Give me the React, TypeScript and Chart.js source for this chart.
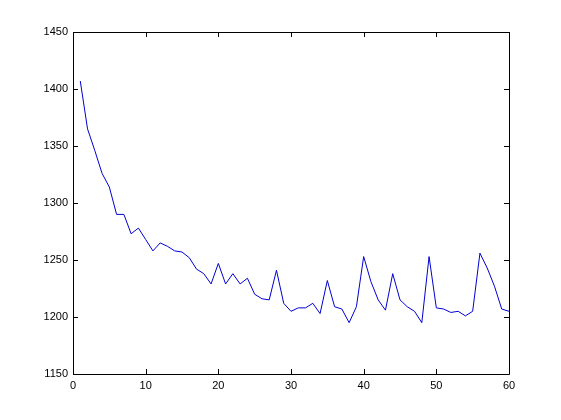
import React, { useEffect, useRef } from "react";
import { Chart, registerables } from "chart.js";

Chart.register(...registerables);

const xValues: number[] = Array.from({ length: 60 }, (_, i) => i + 1);
const yValues: number[] = [
  1407, 1365, 1346, 1326, 1314, 1290, 1290, 1273, 1278, 1268,
  1258, 1265, 1262, 1258, 1257, 1252, 1242, 1238, 1229, 1247,
  1229, 1238, 1229, 1234, 1220, 1216, 1215, 1241, 1212, 1205,
  1208, 1208, 1212, 1203, 1232, 1209, 1207, 1195, 1209, 1253,
  1231, 1215, 1206, 1238, 1215, 1209, 1205, 1195, 1253, 1208,
  1207, 1204, 1205, 1201, 1205, 1256, 1243, 1227, 1207, 1205,
];
const xTicks: number[] = [0, 10, 20, 30, 40, 50, 60];
const yTicks: number[] = [1150, 1200, 1250, 1300, 1350, 1400, 1450];

const framePlugin = {
  id: "matlabFrame",
  afterDatasetsDraw(chart: any) {
    const { ctx, chartArea } = chart;
    const { left, right, top, bottom } = chartArea;
    const xs = chart.scales.x;
    const ys = chart.scales.y;
    const L = 5;
    ctx.save();
    ctx.strokeStyle = "#000";
    ctx.lineWidth = 1;
    ctx.beginPath();
    ctx.rect(Math.round(left) + 0.5, Math.round(top) + 0.5, Math.round(right - left), Math.round(bottom - top));
    for (const v of xTicks) {
      const px = Math.round(xs.getPixelForValue(v)) + 0.5;
      ctx.moveTo(px, bottom);
      ctx.lineTo(px, bottom - L);
      ctx.moveTo(px, top);
      ctx.lineTo(px, top + L);
    }
    for (const v of yTicks) {
      const py = Math.round(ys.getPixelForValue(v)) + 0.5;
      ctx.moveTo(left, py);
      ctx.lineTo(left + L, py);
      ctx.moveTo(right, py);
      ctx.lineTo(right - L, py);
    }
    ctx.stroke();
    ctx.restore();
  },
};

export default function App() {
  const ref = useRef<HTMLCanvasElement | null>(null);
  useEffect(() => {
    if (!ref.current) return;
    const chart = new Chart(ref.current, {
      type: "line",
      data: {
        datasets: [
          {
            data: xValues.map((x, i) => ({ x, y: yValues[i] })),
            borderColor: "#0000d0",
            borderWidth: 1,
            pointRadius: 0,
            tension: 0,
            fill: false,
          },
        ],
      },
      options: {
        animation: false,
        responsive: false,
        events: [],
        layout: { padding: { left: 0, top: 32, right: 52, bottom: 0 } },
        plugins: { legend: { display: false }, tooltip: { enabled: false } },
        scales: {
          x: {
            type: "linear",
            min: 0,
            max: 60,
            afterFit: (s: any) => { s.height = 46; },
            afterBuildTicks: (s: any) => { s.ticks = xTicks.map((v) => ({ value: v })); },
            grid: { display: false, drawTicks: false },
            border: { display: false },
            ticks: { color: "#000", padding: 5, font: { family: "Liberation Sans", size: 11 }, maxRotation: 0, callback: (v: any) => String(v) },
          },
          y: {
            type: "linear",
            min: 1150,
            max: 1450,
            afterFit: (s: any) => { s.width = 73; },
            afterBuildTicks: (s: any) => { s.ticks = yTicks.map((v) => ({ value: v })); },
            grid: { display: false, drawTicks: false },
            border: { display: false },
            ticks: { color: "#000", padding: 5, font: { family: "Liberation Sans", size: 11 }, callback: (v: any) => String(v) },
          },
        },
      },
      plugins: [framePlugin],
    });
    return () => chart.destroy();
  }, []);
  return (
    <div style={{ position: "fixed", left: 0, top: 0, width: 561, height: 420, background: "#fff" }}>
      <canvas ref={ref} width={561} height={420} style={{ width: 561, height: 420 }} />
    </div>
  );
}
